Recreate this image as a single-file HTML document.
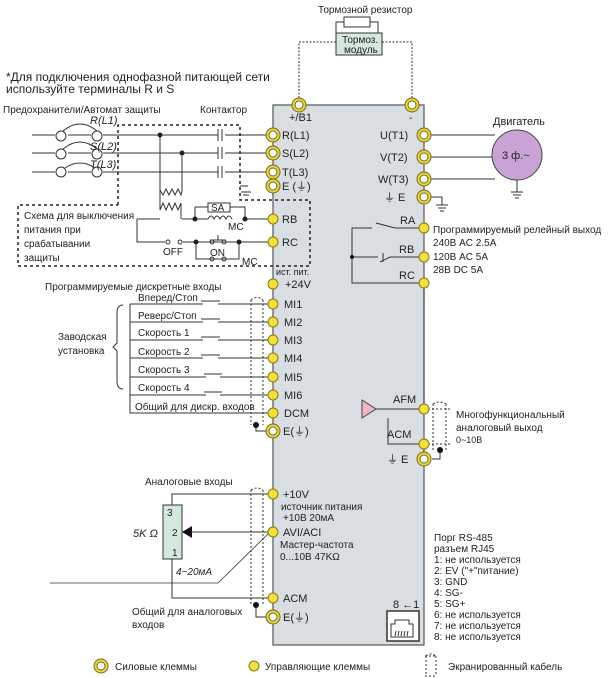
<!DOCTYPE html>
<html><head><meta charset="utf-8"><style>
body{margin:0;background:#fff}
svg{display:block}
text{font-family:"Liberation Sans",sans-serif;font-size:10px;fill:#222}
.b{font-size:11px}
</style></head><body>
<svg width="615" height="678" viewBox="0 0 615 678" xmlns="http://www.w3.org/2000/svg">
<defs>
<g id="pw"><circle r="7" fill="#e6d64a" stroke="#7a6a10" stroke-width="1"/><circle r="4" fill="#fff" stroke="#7a6a10" stroke-width="1"/></g>
<g id="ct"><circle r="5" fill="#f0e040" stroke="#8a7a10" stroke-width="1"/></g>
</defs>
<!-- main box -->
<rect x="273" y="105" width="151" height="540" fill="#d9dee3" stroke="#555" stroke-width="1.2"/>

<!-- brake module -->
<text x="318" y="13">Тормозной резистор</text>
<rect x="344" y="17" width="26" height="10" fill="#fff" stroke="#333"/>
<path d="M344 22H336V33M370 22H378V33" fill="none" stroke="#333"/>
<rect x="336" y="33" width="46" height="22" fill="#d4e8dc" stroke="#333"/>
<text x="342" y="43">Тормоз.</text><text x="344" y="53">модуль</text>
<path d="M299 98V42H336M382 42H412V98" fill="none" stroke="#333" stroke-dasharray="2,1.5"/>
<use href="#pw" x="299" y="105"/><use href="#pw" x="412" y="105"/>
<text x="289" y="121" class="b">+/B1</text><text x="409" y="121">-</text>

<text x="6" y="81" style="font-size:12px">*Для подключения однофазной питающей сети</text>
<text x="6" y="93" style="font-size:12px">используйте терминалы R и S</text>
<text x="3" y="113">Предохранители/Автомат защиты</text>
<text x="200" y="113">Контактор</text>

<!-- power lines -->
<g stroke="#333" fill="none">
<path d="M32 135H55M68 135H91M103 135H218M225 135H266"/>
<path d="M32 153H55M68 153H91M103 153H218M225 153H266"/>
<path d="M32 172H55M68 172H91M103 172H218M225 172H266"/>
<circle cx="61" cy="136" r="5"/><circle cx="97" cy="136" r="5"/>
<circle cx="61" cy="154" r="5"/><circle cx="97" cy="154" r="5"/>
<circle cx="61" cy="172" r="5"/><circle cx="97" cy="172" r="5"/>
<path d="M63 131Q80 117 97 131M63 149Q80 135 97 149M65 168Q80 158 95 168"/>
<path d="M218 129V141M222 129V141M218 147V159M222 147V159M218 166V178M222 166V178"/>
<path d="M160 135V190l3 5 3-6 3 6 3-6 3 6 3-6 3 6 1-4V153"/>
<path d="M160 210l3-7 3 7 3-7 3 7 3-7 3 7 3-7V219"/>
<path d="M160 190V210M137 219H160M182 219H208M137 219V242H165M183 242H273M245 219H273"/>
<path d="M195 219V207H245V219M208 219q3-6 6 0q3-6 6 0q3-6 6 0q3-6 6 0"/>
<path d="M196 242V259H210M224 259H239V242"/>
<path d="M210 240H226M210 259h14M218 235v5"/>
<path d="M248 186H240M241 192h10M243 195h6"/>
</g>
<rect x="208" y="203" width="22" height="9" fill="#fff" stroke="#333"/>
<text x="211" y="211">SA</text><text x="228" y="230">MC</text>
<text x="163" y="255">OFF</text><text x="210" y="256">ON</text><text x="242" y="265">MC</text>
<g fill="#222"><circle cx="160" cy="135" r="2.5"/><circle cx="182" cy="153" r="2.5"/><circle cx="195" cy="219" r="2.5"/><circle cx="245" cy="219" r="2.5"/><circle cx="196" cy="242" r="2.5"/><circle cx="239" cy="242" r="2.5"/></g>
<g fill="none" stroke="#333"><circle cx="168" cy="242" r="2"/><circle cx="180" cy="242" r="2"/><circle cx="212" cy="242" r="2"/><circle cx="224" cy="242" r="2"/><circle cx="212" cy="259" r="2"/><circle cx="224" cy="259" r="2"/></g>
<text x="90" y="124" style="font-style:italic;font-size:11px">R(L1)</text>
<text x="90" y="150" style="font-style:italic;font-size:11px">S(L2)</text>
<text x="90" y="168" style="font-style:italic;font-size:11px">T(L3)</text>
<path d="M118 205V125H240V200H310V266H18V205H118" fill="none" stroke="#222" stroke-width="1.5" stroke-dasharray="3,3"/>
<text x="24" y="219">Схема для выключения</text>
<text x="24" y="233">питания при</text>
<text x="24" y="247">срабатывании</text>
<text x="24" y="261">защиты</text>

<!-- left terminals -->
<use href="#pw" x="273" y="135"/><use href="#pw" x="273" y="153"/><use href="#pw" x="273" y="172"/><use href="#pw" x="273" y="186"/>
<text x="282" y="139" class="b">R(L1)</text><text x="282" y="157" class="b">S(L2)</text><text x="282" y="176" class="b">T(L3)</text><text x="282" y="190" class="b">E (⏚)</text>
<use href="#ct" x="273" y="219"/><use href="#ct" x="273" y="242"/>
<text x="282" y="223" class="b">RB</text><text x="282" y="246" class="b">RC</text>
<text x="276" y="275" style="font-size:9px">ист. пит.</text>
<use href="#ct" x="273" y="284"/><text x="285" y="288" class="b">+24V</text>

<!-- digital inputs -->
<text x="45" y="290">Программируемые дискретные входы</text>
<text x="58" y="340">Заводская</text><text x="58" y="354">установка</text>
<path d="M123 305q-6 0-6 8v30l-4 4 4 4v30q0 8 6 8" fill="none" stroke="#333"/>
<g stroke="#333" fill="none">
<path d="M130 304V413H273"/>
<path d="M130 304H203M218 304H273"/><path d="M130 322H203M218 322H273"/><path d="M130 340H203M218 340H273"/>
<path d="M130 358H203M218 358H273"/><path d="M130 377H206M220 377H273"/><path d="M130 395H206M220 395H273"/>
<path d="M201 301H220M201 319H220M201 337H220M201 355H220M204 374H222M204 392H222"/>
<path d="M251 300V425M263 300V425M251 300q6-5 12 0" stroke-dasharray="2,2"/>
<path d="M256 425V431H266"/>
</g>
<circle cx="256" cy="425" r="3" fill="#111"/>
<text x="138" y="301">Вперед/Стоп</text><text x="138" y="319">Реверс/Стоп</text>
<text x="138" y="336">Скорость 1</text><text x="138" y="355">Скорость 2</text>
<text x="138" y="373">Скорость 3</text><text x="138" y="391">Скорость 4</text>
<text x="135" y="410">Общий для дискр. входов</text>
<use href="#ct" x="273" y="304"/><use href="#ct" x="273" y="322"/><use href="#ct" x="273" y="340"/><use href="#ct" x="273" y="358"/><use href="#ct" x="273" y="377"/><use href="#ct" x="273" y="395"/><use href="#ct" x="273" y="413"/>
<use href="#pw" x="273" y="431"/>
<text x="284" y="308" class="b">MI1</text><text x="284" y="326" class="b">MI2</text><text x="284" y="344" class="b">MI3</text><text x="284" y="362" class="b">MI4</text><text x="284" y="381" class="b">MI5</text><text x="284" y="399" class="b">MI6</text><text x="284" y="417" class="b">DCM</text><text x="283" y="435" class="b">E(⏚)</text>

<!-- analog inputs -->
<text x="145" y="485">Аналоговые входы</text>
<g stroke="#333" fill="none">
<path d="M172 505V494H273M191 532H273M172 559V598H273"/>
<path d="M50 583H218L268 534" stroke-width="0.8"/>
<path d="M251 490V605M263 490V605M251 490q6-4 12 0" stroke-dasharray="2,2"/>
<path d="M256 605V617H266"/>
</g>
<circle cx="256" cy="605" r="3" fill="#111"/>
<rect x="163" y="505" width="19" height="54" fill="#d4e8dc" stroke="#333"/>
<path d="M182 532l10-6v12z" fill="#111"/>
<text x="167" y="516">3</text><text x="172" y="536">2</text><text x="172" y="556">1</text>
<text x="133" y="537" style="font-style:italic;font-size:11px">5K Ω</text>
<text x="176" y="575" style="font-style:italic">4~20мА</text>
<text x="132" y="615">Общий для аналоговых</text><text x="132" y="628">входов</text>
<use href="#ct" x="273" y="494"/><use href="#ct" x="273" y="532"/><use href="#ct" x="273" y="598"/><use href="#pw" x="273" y="617"/>
<text x="283" y="498" class="b">+10V</text><text x="281" y="510">источник питания</text><text x="283" y="521">+10В 20мА</text>
<text x="283" y="536" class="b">AVI/ACI</text><text x="280" y="548">Мастер-частота</text><text x="280" y="560">0...10В 47KΩ</text>
<text x="283" y="602" class="b">ACM</text><text x="283" y="621" class="b">E(⏚)</text>

<!-- right side -->
<g stroke="#333" fill="none">
<path d="M431 135H495M431 157H492M431 179H495"/>
<path d="M431 197H442V205M436 205h12M438 208h8M440 211h4"/>
<path d="M517 180V192M511 192h12M513 195h8M515 198h4"/>
<path d="M424 228H395L376 223M372 228H352V283H424M352 257H378M380 262l10-5H424M383 253v9"/>
<path d="M424 283V409M424 444V459"/>
<path d="M376 409H424M388 418V444H424"/>
<path d="M424 409H450M424 444H450M433 404V450M446 404V450M433 404q6-4 13 0" stroke-dasharray="2,2"/>
<path d="M440 450V459H432"/>
</g>
<circle cx="352" cy="257" r="2" fill="#111"/><circle cx="440" cy="450" r="3" fill="#111"/>
<circle cx="517" cy="155" r="25" fill="#c9a3d6" stroke="#444"/>
<text x="502" y="159" class="b">3 ф.~</text>
<text x="493" y="125" class="b">Двигатель</text>
<path d="M362 400l14 9-14 9z" fill="#f0b4c8" stroke="#444"/>
<use href="#pw" x="424" y="135"/><use href="#pw" x="424" y="157"/><use href="#pw" x="424" y="179"/><use href="#pw" x="424" y="197"/>
<text x="380" y="139" class="b">U(T1)</text><text x="380" y="161" class="b">V(T2)</text><text x="378" y="183" class="b">W(T3)</text><text x="384" y="201" class="b">⏚ E</text>
<use href="#ct" x="424" y="228"/><use href="#ct" x="424" y="257"/><use href="#ct" x="424" y="283"/>
<text x="400" y="224" class="b">RA</text><text x="399" y="253" class="b">RB</text><text x="399" y="279" class="b">RC</text>
<text x="433" y="233">Программируемый релейный выход</text>
<text x="433" y="246">240В AC 2.5A</text><text x="433" y="260">120В AC 5A</text><text x="433" y="273">28В DC   5A</text>
<use href="#ct" x="424" y="409"/><use href="#ct" x="424" y="444"/><use href="#pw" x="424" y="459"/>
<text x="393" y="403" class="b">AFM</text><text x="387" y="438" class="b">ACM</text><text x="387" y="463" class="b">⏚ E</text>
<text x="456" y="418">Многофункциональный</text><text x="456" y="431">аналоговый выход</text><text x="456" y="443" style="font-size:9px">0~10В</text>

<!-- RS485 -->
<text x="393" y="608" class="b">8 ←1</text>
<rect x="387" y="611" width="32" height="30" fill="#fff" stroke="#333" stroke-width="1.5"/>
<path d="M391 637V624h4v-4h14v4h4v13z" fill="none" stroke="#333"/>
<path d="M395 636l1-5M398 636l1-5M401 636l1-5M404 636l1-5M407 636l1-5" stroke="#333"/>
<text x="434" y="541">Порг RS-485</text><text x="434" y="552">разъем RJ45</text>
<text x="434" y="563">1: не используется</text><text x="434" y="574">2: EV ("+"питание)</text>
<text x="434" y="585">3: GND</text><text x="434" y="596">4: SG-</text><text x="434" y="607">5: SG+</text>
<text x="434" y="618">6: не используется</text><text x="434" y="629">7: не используется</text><text x="434" y="640">8: не используется</text>

<!-- legend -->
<use href="#pw" x="101" y="666"/><text x="115" y="670">Силовые клеммы</text>
<use href="#ct" x="254" y="666"/><text x="265" y="670">Управляющие клеммы</text>
<path d="M425 656h12M425 676h12M426 656v20M436 656v20M426 656q5-4 10 0" fill="none" stroke="#333" stroke-dasharray="2,2"/>
<text x="448" y="670">Экранированный кабель</text>
</svg>
</body></html>
